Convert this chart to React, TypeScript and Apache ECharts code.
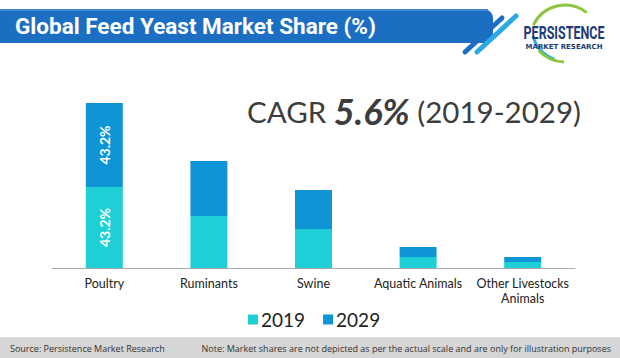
import React, { useEffect, useRef } from "react";
import * as echarts from "echarts";

const categories = ["Poultry", "Ruminants", "Swine", "Aquatic Animals", "Other Livestocks\nAnimals"];
const values2019 = [81, 52, 39, 11, 6];
const values2029 = [84, 55, 39, 10, 5];
const labels2019 = ["43.2%", "", "", "", ""];
const labels2029 = ["43.2%", "", "", "", ""];
const seriesNames = ["2019", "2029"];
const titleText = "Global Feed Yeast Market Share (%)";
const sourceText = "Source: Persistence Market Research";
const noteText = "Note: Market shares are not depicted as per the actual scale and are only for illustration purposes";

const C2019 = "#1ed0d6";
const C2029 = "#0f95d6";
const FONT = "Lato, 'Open Sans', sans-serif";

export default function App() {
  const ref = useRef<HTMLDivElement>(null);
  useEffect(() => {
    const chart = echarts.init(ref.current!, null, { renderer: "svg" });
    const mk = (vals: number[], labs: string[]) =>
      vals.map((v, i) => ({
        value: v,
        label: {
          show: !!labs[i],
          formatter: labs[i],
          position: "inside",
          rotate: 90,
          color: "#fff",
          fontSize: 14,
          fontWeight: "bold",
          fontFamily: FONT,
        },
      }));
    chart.setOption({
      animation: false,
      backgroundColor: "#fff",
      grid: { left: 52, right: 45, top: 88, bottom: 90 },
      xAxis: {
        type: "category",
        data: categories,
        axisLine: { lineStyle: { color: "#aaaaaa", width: 1 } },
        axisTick: { show: false },
        axisLabel: { interval: 0, color: "#222", fontSize: 12.5, fontFamily: FONT, margin: 8, lineHeight: 15 },
      },
      yAxis: { type: "value", min: 0, max: 180, show: false },
      legend: {
        data: seriesNames,
        left: 243,
        top: 305,
        itemWidth: 10,
        itemHeight: 10,
        itemGap: 18,
        icon: "rect",
        textStyle: { fontSize: 19, color: "#222", fontFamily: FONT, padding: [0, 0, 0, -2] },
      },
      series: [
        { name: seriesNames[0], type: "bar", stack: "s", barWidth: 37, itemStyle: { color: C2019 }, data: mk(values2019, labels2019) },
        { name: seriesNames[1], type: "bar", stack: "s", barWidth: 37, itemStyle: { color: C2029 }, data: mk(values2029, labels2029) },
      ],
      graphic: [
        { type: "rect", shape: { x: 0, y: 9, width: 493, height: 34, r: [0, 9, 9, 0] }, style: { fill: "#1c6ec3" } },
        { type: "rect", shape: { x: 0, y: 9, width: 488, height: 2 }, style: { fill: "#3f8ad6" } },
        {
          type: "text",
          x: 15,
          y: 26,
          style: { text: titleText, fill: "#fff", font: "bold 22.5px Roboto, sans-serif", verticalAlign: "middle" },
        },
        { type: "line", shape: { x1: 465, y1: 52, x2: 502, y2: 18 }, style: { stroke: "#1c6ec3", lineWidth: 5, lineCap: "round" } },
        { type: "line", shape: { x1: 477, y1: 52, x2: 516, y2: 16 }, style: { stroke: "#2aa9e4", lineWidth: 5, lineCap: "round" } },
        { type: "arc", shape: { cx: 565, cy: 40, r: 35, startAngle: -2.7, endAngle: -0.9 }, style: { stroke: "#8cc63f", lineWidth: 3, fill: "none" } },
        { type: "arc", shape: { cx: 565, cy: 28, r: 33, startAngle: 1.9, endAngle: 2.9 }, style: { stroke: "#2aa9e4", lineWidth: 3, fill: "none" } },
        { type: "arc", shape: { cx: 565, cy: 26, r: 36, startAngle: 1.6, endAngle: 2.4 }, style: { stroke: "#8cc63f", lineWidth: 3, fill: "none" } },
        {
          type: "text",
          x: 564,
          y: 33,
          scaleY: 1.45,
          style: { text: "PERSISTENCE", fill: "#1d3c78", font: "bold 12.5px Roboto, sans-serif", align: "center", verticalAlign: "middle" },
        },
        {
          type: "text",
          x: 564,
          y: 47,
          style: { text: "MARKET RESEARCH", fill: "#1d3c78", font: "bold 7px 'DejaVu Sans', sans-serif", align: "center", verticalAlign: "middle" },
        },
        {
          type: "text",
          x: 247,
          y: 111,
          style: {
            text: "{a|CAGR }{b|5.6%}{a| (2019-2029)}",
            verticalAlign: "middle",
            rich: {
              a: { fontSize: 29.5, fontFamily: FONT, fill: "#3d3d3d", color: "#3d3d3d" },
              b: { fontSize: 36, fontFamily: FONT, fontWeight: "bold", fontStyle: "italic", fill: "#3d3d3d", color: "#3d3d3d" },
            },
          },
        },
        { type: "rect", shape: { x: 0, y: 337, width: 620, height: 21 }, style: { fill: "#d6d6d6" } },
        { type: "text", x: 10, y: 348, style: { text: sourceText, fill: "#333", font: "9px 'Open Sans', sans-serif", verticalAlign: "middle" } },
        { type: "text", x: 611, y: 348, style: { text: noteText, fill: "#333", font: "9px 'Open Sans', sans-serif", align: "right", verticalAlign: "middle" } },
      ],
    });
    return () => chart.dispose();
  }, []);
  return <div ref={ref} style={{ width: 620, height: 358, position: "absolute", left: 0, top: 0 }} />;
}
